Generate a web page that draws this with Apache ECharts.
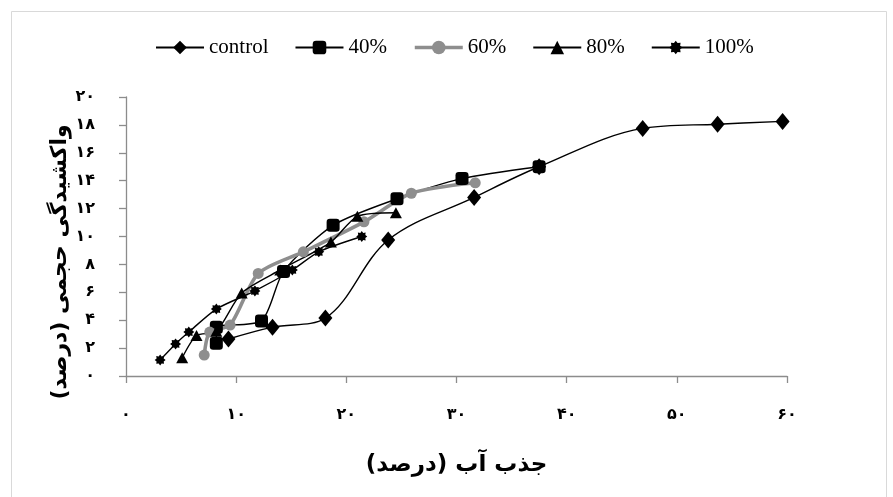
<!DOCTYPE html>
<html>
<head>
<meta charset="utf-8">
<script src="https://cdn.jsdelivr.net/npm/echarts@6/dist/echarts.min.js"></script>
<style>
  html, body { margin: 0; padding: 0; background: #fff; }
  #chart { width: 893px; height: 497px; }
</style>
</head>
<body>
<div id="chart"></div>
<script>
// Water absorption (%) vs. volumetric swelling (%) for each treatment
const seriesNames = ['control', '40%', '60%', '80%', '100%'];

const controlX = [9.3, 13.3, 18.1, 23.8, 31.6, 37.5, 46.9, 53.7, 59.6];
const controlY = [2.65, 3.5, 4.15, 9.75, 12.8, 15.0, 17.75, 18.05, 18.25];

const p40X = [8.2, 8.2, 12.3, 14.3, 18.8, 24.6, 30.5, 37.5];
const p40Y = [2.35, 3.5, 3.95, 7.5, 10.8, 12.7, 14.15, 15.0];

const p60X = [7.1, 7.6, 9.45, 12.0, 16.1, 21.6, 25.9, 31.7];
const p60Y = [1.5, 3.15, 3.65, 7.35, 8.9, 11.05, 13.1, 13.85];

const p80X = [5.1, 6.4, 8.2, 10.5, 14.0, 18.6, 21.0, 24.5];
const p80Y = [1.3, 2.9, 3.2, 5.95, 7.6, 9.6, 11.45, 11.7];

const p100X = [3.1, 4.5, 5.7, 8.2, 11.7, 15.1, 17.5, 21.4];
const p100Y = [1.15, 2.3, 3.15, 4.8, 6.1, 7.6, 8.9, 10.0];

// Persian tick labels
const xTickLabels = ['۰', '۱۰', '۲۰', '۳۰', '۴۰', '۵۰', '۶۰'];
const yTickLabels = ['۰', '۲', '۴', '۶', '۸', '۱۰', '۱۲', '۱۴', '۱۶', '۱۸', '۲۰'];

const xAxisTitle = 'جذب آب (درصد)';
const yAxisTitle = 'واکشیدگی حجمی (درصد)';

function pairs(xs, ys) {
  return xs.map((x, i) => [x, ys[i]]);
}

// Eight-pointed star used as the marker for the 100% series
function starPath(points, outer, inner) {
  let d = '';
  for (let i = 0; i < points * 2; i++) {
    const r = i % 2 === 0 ? outer : inner;
    const a = (Math.PI * i) / points - Math.PI / 2;
    const px = (10 + r * Math.cos(a)).toFixed(2);
    const py = (10 + r * Math.sin(a)).toFixed(2);
    d += (i === 0 ? 'M' : 'L') + px + ',' + py;
  }
  return 'path://' + d + 'Z';
}

const persianFont = 'DejaVu Sans';
const black = '#000000';
const grey = '#8e8e8e';
const starSymbol = starPath(8, 10, 7);

function lineSeries(name, data, opts) {
  return Object.assign({
    name: name,
    type: 'line',
    data: data,
    smooth: 0.25,
    showSymbol: true,
    lineStyle: { color: black, width: 1.4 },
    itemStyle: { color: black },
    emphasis: { disabled: true }
  }, opts);
}

const chart = echarts.init(document.getElementById('chart'));

chart.setOption({
  animation: false,
  backgroundColor: '#ffffff',
  graphic: [{
    type: 'rect',
    left: 9, top: 9,
    shape: { width: 875, height: 495 },
    style: { fill: 'none', stroke: '#d9d9d9', lineWidth: 1 },
    silent: true
  }, {
    type: 'text',
    x: 60, y: 262,
    rotation: Math.PI / 2,
    style: {
      text: yAxisTitle,
      fontFamily: persianFont, fontWeight: 'bold', fontSize: 22,
      fill: black, align: 'center', verticalAlign: 'middle'
    },
    silent: true
  }],
  legend: {
    left: 150,
    top: 32,
    itemWidth: 48,
    itemHeight: 17,
    itemGap: 26,
    textStyle: { fontFamily: 'Liberation Serif', fontSize: 21, color: black },
    data: [
      { name: 'control' },
      { name: '40%' },
      { name: '60%', lineStyle: { color: grey, width: 3.6 } },
      { name: '80%' },
      { name: '100%' }
    ]
  },
  grid: { left: 126, right: 106, top: 97, bottom: 121 },
  xAxis: {
    type: 'value',
    min: 0, max: 60, interval: 10,
    name: xAxisTitle,
    nameLocation: 'middle',
    nameGap: 78,
    nameTextStyle: { fontFamily: persianFont, fontWeight: 'bold', fontSize: 23, color: black },
    axisLine: { lineStyle: { color: '#8c8c8c', width: 1.3 } },
    axisTick: { inside: false, length: 7, lineStyle: { color: '#8c8c8c', width: 1.3 } },
    splitLine: { show: false },
    axisLabel: {
      margin: 31,
      fontFamily: persianFont, fontWeight: 'bold', fontSize: 16, color: black,
      formatter: v => xTickLabels[Math.round(v / 10)]
    }
  },
  yAxis: {
    type: 'value',
    min: 0, max: 20, interval: 2,
    axisLine: { show: true, lineStyle: { color: '#8c8c8c', width: 1.3 } },
    axisTick: { show: true, inside: false, length: 7, lineStyle: { color: '#8c8c8c', width: 1.3 } },
    splitLine: { show: false },
    axisLabel: {
      margin: 31,
      fontFamily: persianFont, fontWeight: 'bold', fontSize: 16, color: black,
      formatter: v => yTickLabels[Math.round(v / 2)]
    }
  },
  series: [
    lineSeries('control', pairs(controlX, controlY), {
      smooth: 0.35,
      symbol: 'diamond', symbolSize: [14, 17]
    }),
    lineSeries('40%', pairs(p40X, p40Y), {
      symbol: 'roundRect', symbolSize: 13
    }),
    lineSeries('60%', pairs(p60X, p60Y), {
      symbol: 'circle', symbolSize: 11,
      lineStyle: { color: grey, width: 3.6 },
      itemStyle: { color: grey }
    }),
    lineSeries('80%', pairs(p80X, p80Y), {
      symbol: 'triangle', symbolSize: [12, 11]
    }),
    lineSeries('100%', pairs(p100X, p100Y), {
      symbol: starSymbol, symbolSize: 11
    })
  ]
});
</script>
</body>
</html>
